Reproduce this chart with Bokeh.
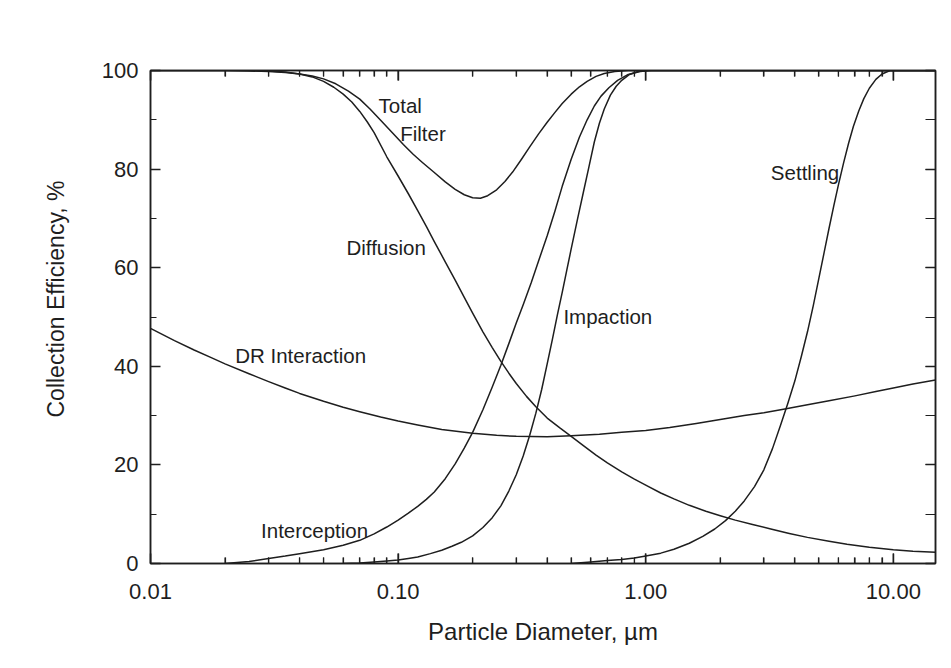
import math
from bokeh.plotting import figure
from bokeh.models import (Range1d, LinearAxis, LinearScale, FixedTicker,
                          SingleIntervalTicker, CustomJSTickFormatter,
                          ColumnDataSource, Title)
from bokeh.core.properties import value
from bokeh.embed import file_html
from bokeh.resources import INLINE

# ---------------- data ----------------
d_total = [0.010, 0.020, 0.025, 0.030, 0.035, 0.040, 0.045, 0.050, 0.056, 0.063,
           0.070, 0.077, 0.085, 0.095, 0.105, 0.115, 0.125, 0.14, 0.155, 0.17,
           0.185, 0.20, 0.215, 0.23, 0.25, 0.27, 0.29, 0.315, 0.34, 0.37, 0.40,
           0.43, 0.46, 0.50, 0.54, 0.58, 0.63, 0.68, 0.75, 0.85, 14.8]
eff_total = [100, 100, 99.9, 99.8, 99.6, 99.3, 98.9, 98.3, 97.3, 95.8,
             94.2, 92.2, 89.9, 87.3, 85.0, 83.0, 81.4, 79.3, 77.4, 75.9,
             74.8, 74.2, 74.1, 74.6, 75.8, 77.5, 79.4, 82.0, 84.5, 87.2, 89.5,
             91.5, 93.3, 95.2, 96.7, 97.8, 98.8, 99.4, 99.8, 100, 100]

d_diff = [0.010, 0.025, 0.030, 0.035, 0.040, 0.045, 0.050, 0.055, 0.060, 0.065,
          0.070, 0.075, 0.080, 0.090, 0.10, 0.11, 0.12, 0.13, 0.14, 0.155, 0.17,
          0.185, 0.20, 0.22, 0.24, 0.26, 0.28, 0.30, 0.33, 0.36, 0.40, 0.45,
          0.50, 0.56, 0.63, 0.70, 0.80, 0.90, 1.0, 1.15, 1.3, 1.5, 1.75, 2.0,
          2.3, 2.7, 3.2, 3.8, 4.5, 5.5, 6.5, 8.0, 10.0, 12.0, 14.8]
eff_diff = [100, 100, 99.9, 99.7, 99.3, 98.7, 97.8, 96.6, 95.2, 93.6,
            91.7, 89.6, 87.4, 82.5, 78.6, 75.0, 71.6, 68.4, 65.3, 61.2, 57.5,
            54.0, 50.8, 47.0, 43.8, 41.0, 38.6, 36.5, 33.9, 31.8, 29.5, 27.5,
            25.8, 23.9, 22.0, 20.4, 18.6, 17.1, 15.9, 14.3, 13.1, 11.8, 10.6, 9.7,
            8.8, 7.9, 7.0, 6.1, 5.3, 4.5, 3.9, 3.3, 2.8, 2.5, 2.3]

d_dr = [0.010, 0.0125, 0.015, 0.0175, 0.020, 0.025, 0.030, 0.035, 0.040, 0.050,
        0.060, 0.070, 0.085, 0.10, 0.12, 0.15, 0.20, 0.25, 0.30, 0.40, 0.50,
        0.65, 0.80, 1.0, 1.25, 1.6, 2.0, 2.5, 3.0, 3.6, 4.5, 5.5, 7.0, 8.5,
        10.0, 12.0, 14.8]
eff_dr = [47.7, 45.2, 43.3, 41.8, 40.5, 38.5, 36.9, 35.6, 34.5, 32.9,
          31.7, 30.8, 29.7, 28.9, 28.1, 27.2, 26.4, 26.0, 25.8, 25.7, 25.9,
          26.2, 26.6, 27.0, 27.6, 28.4, 29.2, 30.0, 30.6, 31.3, 32.2, 33.0,
          34.0, 34.9, 35.6, 36.4, 37.2]

d_int = [0.020, 0.025, 0.030, 0.035, 0.040, 0.050, 0.060, 0.070, 0.080, 0.090,
         0.10, 0.11, 0.12, 0.13, 0.14, 0.155, 0.17, 0.185, 0.20, 0.22, 0.24,
         0.26, 0.28, 0.30, 0.32, 0.345, 0.37, 0.40, 0.43, 0.46, 0.50, 0.54,
         0.58, 0.62, 0.66, 0.71, 0.77, 0.85, 0.95, 1.05, 14.8]
eff_int = [0, 0.4, 1.0, 1.5, 2.0, 2.8, 3.7, 4.7, 6.0, 7.4,
           8.8, 10.2, 11.6, 13.0, 14.5, 17.2, 20.2, 23.4, 26.6, 31.2, 35.8,
           40.2, 44.6, 48.8, 52.5, 57.0, 61.5, 66.5, 71.5, 76.5, 82.0, 86.5,
           90.0, 92.8, 94.8, 96.5, 98.0, 99.2, 99.8, 100, 100]

d_imp = [0.06, 0.07, 0.08, 0.09, 0.10, 0.11, 0.12, 0.135, 0.15, 0.165, 0.18,
         0.20, 0.22, 0.24, 0.26, 0.28, 0.30, 0.32, 0.34, 0.36, 0.38, 0.40,
         0.42, 0.44, 0.46, 0.48, 0.50, 0.53, 0.56, 0.59, 0.62, 0.65, 0.68,
         0.72, 0.76, 0.80, 0.86, 0.93, 1.0, 14.8]
eff_imp = [0, 0.1, 0.3, 0.5, 0.7, 1.0, 1.3, 2.0, 2.7, 3.5, 4.3,
           5.6, 7.3, 9.3, 11.7, 14.7, 18.0, 21.8, 26.0, 30.5, 35.3, 40.5,
           45.5, 50.5, 55.0, 59.5, 63.8, 69.8, 75.3, 80.5, 85.5, 89.3, 92.2,
           95.0, 96.8, 98.0, 99.2, 99.8, 100, 100]

d_set = [0.5, 0.6, 0.7, 0.8, 0.9, 1.0, 1.15, 1.3, 1.5, 1.7, 1.9, 2.1, 2.3, 2.5,
         2.75, 3.0, 3.25, 3.5, 3.75, 4.0, 4.25, 4.5, 4.75, 5.0, 5.25, 5.5,
         5.75, 6.0, 6.3, 6.6, 6.9, 7.25, 7.6, 8.0, 8.5, 9.0, 9.7, 14.8]
eff_set = [0, 0.3, 0.6, 0.8, 1.1, 1.5, 2.1, 2.9, 4.1, 5.5, 7.0, 8.7, 10.6, 12.7,
           15.6, 19.0, 23.3, 28.0, 32.5, 37.0, 42.0, 47.0, 52.3, 57.8, 63.0, 68.0,
           72.6, 76.8, 81.3, 85.3, 88.7, 91.8, 94.3, 96.4, 98.2, 99.3, 100, 100]

x_ticks = [0.01, 0.1, 1.0, 10.0]
x_tick_labels = ["0.01", "0.10", "1.00", "10.00"]
y_tick_step = 20

curve_labels = ["Total", "Filter", "Diffusion", "DR Interaction", "Interception",
                "Impaction", "Settling"]
label_x = [0.102, 0.126, 0.0895, 0.0404, 0.046, 0.703, 4.40]
label_y = [92.9, 87.2, 64.1, 42.2, 6.7, 50.1, 79.3]

# ---------------- figure ----------------
FONT = "Liberation Sans"
INK = "#1e1e1e"
X0, X1 = 0.01, 14.8
Y0, Y1 = 0, 100

p = figure(width=951, height=668, x_axis_type="log", x_axis_location=None,
           x_range=Range1d(X0, X1), y_range=Range1d(Y0, Y1),
           output_backend="svg", toolbar_location=None,
           min_border_left=150, min_border_right=16,
           min_border_top=70, min_border_bottom=105)
p.grid.visible = False
p.outline_line_color = INK
p.outline_line_width = 1.5
p.background_fill_color = "white"
p.border_fill_color = "white"

# decade axis: a linear scale over log10(diameter), aligned with the log data scale
p.extra_x_ranges = {"dec": Range1d(math.log10(X0), math.log10(X1))}
p.extra_x_scales = {"dec": LinearScale()}
minor_d = [m * t for t in x_ticks for m in range(2, 10) if m * t <= X1]
major_dec = [math.log10(t) for t in x_ticks]
minor_dec = [math.log10(t) for t in minor_d]


def style_axis(ax, major_in, minor_in):
    ax.axis_line_color = INK
    ax.axis_line_width = 1.5
    ax.major_tick_line_color = INK
    ax.minor_tick_line_color = INK
    ax.major_tick_line_width = 1.4
    ax.minor_tick_line_width = 1.2
    ax.major_tick_in = major_in
    ax.major_tick_out = 0
    ax.minor_tick_in = minor_in
    ax.minor_tick_out = 0
    ax.major_label_text_font = FONT
    ax.major_label_text_color = INK
    ax.major_label_text_font_size = "22px"
    ax.axis_label_text_font = FONT
    ax.axis_label_text_color = INK
    ax.axis_label_text_font_size = "24px"
    ax.axis_label_text_font_style = "normal"


xa = LinearAxis(x_range_name="dec",
                ticker=FixedTicker(ticks=major_dec, minor_ticks=minor_dec),
                axis_label="Particle Diameter, µm")
xa.major_label_overrides = {t: l for t, l in zip(major_dec, x_tick_labels)}
style_axis(xa, 10, 6)
xa.major_label_standoff = 20
xa.axis_label_standoff = 16
p.add_layout(xa, "below")

blank = CustomJSTickFormatter(code="return ''")
top = LinearAxis(x_range_name="dec",
                 ticker=FixedTicker(ticks=major_dec, minor_ticks=minor_dec),
                 formatter=blank)
style_axis(top, 10, 6)
top.major_label_text_font_size = "0px"
top.major_label_standoff = 0
p.add_layout(top, "above")

ya = p.yaxis[0]
ya.ticker = SingleIntervalTicker(interval=y_tick_step, num_minor_ticks=2)
style_axis(ya, 10, 6)
ya.major_label_standoff = 12

right = LinearAxis(ticker=SingleIntervalTicker(interval=y_tick_step, num_minor_ticks=2),
                   formatter=blank)
style_axis(right, 10, 10)
right.major_label_text_font_size = "0px"
right.major_label_standoff = 0
p.add_layout(right, "right")

# inward tick marks along the bottom and top edges (screen-length rays from the tick lists)
for xs, ln, w in [(x_ticks, 10, 1.4), (minor_d, 6, 1.2)]:
    p.ray(x=xs, y=[Y0] * len(xs), length=ln, length_units="screen",
          angle=math.pi / 2, line_color=INK, line_width=w)
    p.ray(x=xs, y=[Y1] * len(xs), length=ln, length_units="screen",
          angle=-math.pi / 2, line_color=INK, line_width=w)

# y-axis title as a side-panel title (reads bottom to top, shifted up like the reference)
ytitle = Title(text="Collection Efficiency, %", align="left", offset=146,
               vertical_align="bottom", standoff=60,
               text_font=FONT, text_font_size="23px", text_font_style="normal",
               text_color=INK)
p.add_layout(ytitle, "left")

# ---------------- curves ----------------
for xs, ys in [(d_total, eff_total), (d_diff, eff_diff), (d_dr, eff_dr),
               (d_int, eff_int), (d_imp, eff_imp), (d_set, eff_set)]:
    p.line(xs, ys, line_color=INK, line_width=1.5, line_join="round")

src = ColumnDataSource(dict(x=label_x, y=label_y, t=curve_labels))
p.text(x="x", y="y", text="t", source=src, text_font=value(FONT),
       text_font_size="20.5px", text_color=INK, text_align="center",
       text_baseline="middle")

open("out.html", "w").write(file_html(p, INLINE))
